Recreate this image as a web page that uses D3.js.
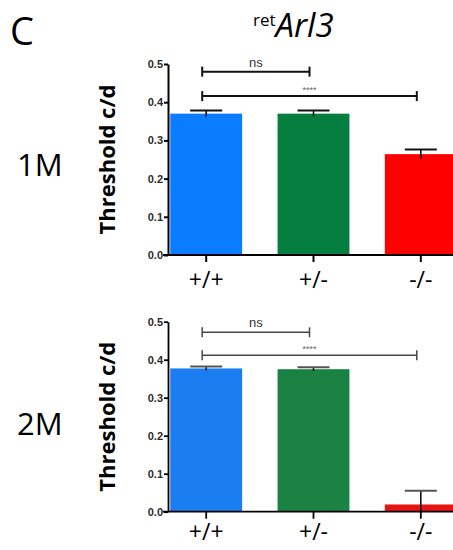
<!DOCTYPE html>
<html>
<head>
<meta charset="utf-8">
<script src="https://cdn.jsdelivr.net/npm/d3@7"></script>
<style>
  body { margin: 0; background: #fff; }
  svg { display: block; }
</style>
</head>
<body>
<script>
// data
var groups = ["+/+", "+/-", "-/-"];
var yTicks = [0.0, 0.1, 0.2, 0.3, 0.4, 0.5];

var means1M = [0.370, 0.370, 0.264];
var sem1M = [0.008, 0.008, 0.012];
var means2M = [0.377, 0.375, 0.019];
var sem2M = [0.005, 0.005, 0.036];

// comparisons: [from group, to group, label, height]
var comps1M = [[0, 1, "ns", 0.48], [0, 2, "****", 0.416]];
var comps2M = [[0, 1, "ns", 0.472], [0, 2, "****", 0.412]];

var colors1M = ["#0a7cff", "#057f3f", "#ff0000"];
var colors2M = ["#1a7ef0", "#1a8242", "#e81414"];

var W = 453, H = 550;

var svg = d3.select("body").append("svg")
    .attr("width", W)
    .attr("height", H);

// panel letter and title
svg.append("text")
    .attr("x", 10).attr("y", 45)
    .style("font-family", "Open Sans")
    .style("font-size", "38px")
    .text("C");

var title = svg.append("text")
    .attr("x", 253).attr("y", 37)
    .style("font-family", "Open Sans");
title.append("tspan")
    .attr("dy", -11)
    .style("font-size", "17px")
    .text("ret");
title.append("tspan")
    .attr("dy", 11)
    .style("font-size", "33px")
    .style("font-style", "italic")
    .text("Arl3");

function drawPanel(top, bottom, label, labelY, means, sems, comps, colors, heavy, pad) {
    var y = d3.scaleLinear().domain([0, 0.5]).range([bottom, top]);
    var x = d3.scaleBand().domain(groups)
        .range([170.25, 456.75])
        .paddingInner(0.33)
        .paddingOuter(0);

    var g = svg.append("g");
    var axisW = heavy ? 2 : 1.8;

    // age label
    g.append("text")
        .attr("x", 17).attr("y", labelY)
        .style("font-family", "Open Sans")
        .style("font-size", "31px")
        .text(label);

    // y title
    g.append("text")
        .attr("transform", "translate(115," + ((top + bottom) / 2) + ") rotate(-90)")
        .attr("text-anchor", "middle")
        .style("font-family", "Open Sans")
        .style("font-weight", "bold")
        .style("font-size", "22px")
        .text("Threshold c/d");

    // bars
    g.selectAll(".bar")
        .data(means)
        .enter().append("rect")
        .attr("x", function(d, i) { return x(groups[i]); })
        .attr("width", x.bandwidth())
        .attr("y", function(d) { return y(d); })
        .attr("height", function(d) { return y(0) - y(d); })
        .style("fill", function(d, i) { return colors[i]; });

    // error bars
    var err = g.selectAll(".err")
        .data(means)
        .enter().append("g")
        .attr("transform", function(d, i) { return "translate(" + (x(groups[i]) + x.bandwidth() / 2) + ",0)"; });
    err.append("line")
        .attr("y1", function(d, i) { return y(Math.max(0, d - sems[i])); })
        .attr("y2", function(d, i) { return y(d + sems[i]); })
        .style("stroke", "#111").style("stroke-width", 1.6);
    err.append("line")
        .attr("x1", -16).attr("x2", 16)
        .attr("y1", function(d, i) { return y(d + sems[i]); })
        .attr("y2", function(d, i) { return y(d + sems[i]); })
        .style("stroke", heavy ? "#111" : "#555").style("stroke-width", 2);

    // y axis
    var yAxis = g.append("g")
        .attr("transform", "translate(168,0)")
        .call(d3.axisLeft(y).tickValues(yTicks).tickFormat(d3.format(".1f")).tickSize(4).tickSizeOuter(0).tickPadding(1));
    yAxis.selectAll("path, line").style("stroke", "#000").style("stroke-width", axisW);
    yAxis.selectAll("text")
        .style("font-family", "Liberation Sans")
        .style("font-weight", "bold")
        .style("font-size", "11px")
        .style("fill", "#2a2a2a");

    // x axis
    var xAxis = g.append("g")
        .attr("transform", "translate(0," + bottom + ")")
        .call(d3.axisBottom(x).tickSize(7).tickSizeOuter(0).tickPadding(pad));
    xAxis.select(".domain").remove();
    xAxis.append("line")
        .attr("x1", 163).attr("x2", W)
        .style("stroke", "#000").style("stroke-width", axisW);
    xAxis.selectAll(".tick line").style("stroke", "#000").style("stroke-width", axisW);
    xAxis.selectAll(".tick text")
        .style("font-family", "Open Sans")
        .style("font-size", "23px")
        .style("fill", "#000");

    // significance brackets
    var c = g.selectAll(".comp")
        .data(comps)
        .enter().append("g");
    var cx = function(i) { return x(groups[i]) + x.bandwidth() / 2 - 4; };
    var bw = heavy ? 2 : 1.5;
    var bc = heavy ? "#111" : "#444";
    c.append("line")
        .attr("x1", function(d) { return cx(d[0]); })
        .attr("x2", function(d) { return cx(d[1]); })
        .attr("y1", function(d) { return y(d[3]); })
        .attr("y2", function(d) { return y(d[3]); })
        .style("stroke", bc).style("stroke-width", bw);
    [0, 1].forEach(function(k) {
        c.append("line")
            .attr("x1", function(d) { return cx(d[k]); })
            .attr("x2", function(d) { return cx(d[k]); })
            .attr("y1", function(d) { return y(d[3]) - 5; })
            .attr("y2", function(d) { return y(d[3]) + 5; })
            .style("stroke", bc).style("stroke-width", bw);
    });
    c.append("text")
        .attr("x", function(d) { return (cx(d[0]) + cx(d[1])) / 2; })
        .attr("y", function(d) { return y(d[3]) - (d[2] == "ns" ? 5 : 3); })
        .attr("text-anchor", "middle")
        .style("font-family", "Liberation Sans")
        .style("font-size", function(d) { return d[2] == "ns" ? "13px" : "9px"; })
        .style("fill", function(d) { return d[2] == "ns" ? "#333" : "#666"; })
        .text(function(d) { return d[2]; });
}

drawPanel(64, 255, "1M", 176, means1M, sem1M, comps1M, colors1M, true, 10);
drawPanel(321.7, 511.7, "2M", 435, means2M, sem2M, comps2M, colors2M, false, 5);
</script>
</body>
</html>
